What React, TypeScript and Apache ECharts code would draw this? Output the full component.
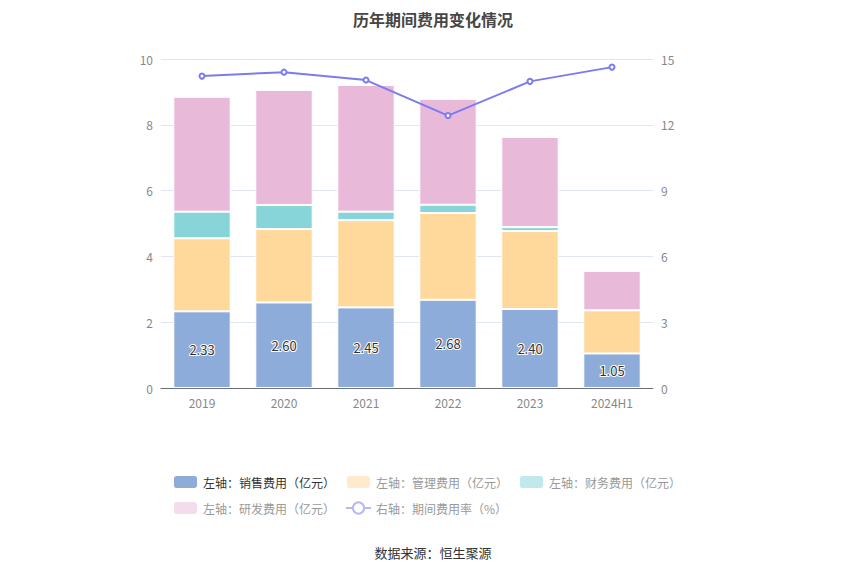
import React, { useEffect, useRef } from "react";
import * as echarts from "echarts";

const categories = ["2019", "2020", "2021", "2022", "2023", "2024H1"];
const salesExp = [2.33, 2.6, 2.45, 2.68, 2.4, 1.05];
const mgmtExp = [2.22, 2.23, 2.65, 2.64, 2.37, 1.31];
const finExp = [0.81, 0.73, 0.26, 0.25, 0.12, 0];
const rdExp = [3.49, 3.5, 3.85, 3.22, 2.74, 1.2];
const expRate = [14.22, 14.4, 14.04, 12.42, 13.98, 14.63];

const names = [
  "左轴：销售费用（亿元）",
  "左轴：管理费用（亿元）",
  "左轴：财务费用（亿元）",
  "左轴：研发费用（亿元）",
  "右轴：期间费用率（%）",
];

const FONT = "'Noto Sans CJK SC', 'Noto Sans', sans-serif";

export default function App() {
  const ref = useRef<HTMLDivElement>(null);
  useEffect(() => {
    if (!ref.current) return;
    const chart = echarts.init(ref.current, undefined, { renderer: "svg" });
    const barStyle = (color: string) => ({
      color,
      borderColor: "#fff",
      borderWidth: 1,
    });
    chart.setOption({
      animation: false,
      textStyle: { fontFamily: FONT },
      title: {
        text: "历年期间费用变化情况",
        left: "center",
        top: 2,
        padding: 0,
        textStyle: { fontSize: 16, fontWeight: "bold", color: "#464646", fontFamily: FONT, lineHeight: 18 },
      },
      legend: {
        left: 159,
        top: 461,
        width: 520,
        itemWidth: 25,
        itemHeight: 14,
        itemGap: 10,
        textStyle: { fontSize: 12, color: "#999", fontFamily: FONT },
        data: [
          { name: names[0], textStyle: { color: "#333" }, itemStyle: { color: "#8EACD9" } },
          { name: names[1], itemStyle: { color: "#FFEACB" } },
          { name: names[2], itemStyle: { color: "#C0E9EB" } },
          { name: names[3], itemStyle: { color: "#F3DCEB" } },
          {
            name: names[4],
            itemStyle: { color: "#B8B8F5", borderColor: "#B8B8F5", borderWidth: 1.5 },
            lineStyle: { color: "#B8B8F5", width: 2 },
          },
        ],
      },
      grid: { left: 153, right: 205, top: 51, bottom: 195 },
      xAxis: {
        type: "category",
        data: categories,
        axisLine: { lineStyle: { color: "#6E7079" } },
        axisTick: { alignWithLabel: true, lineStyle: { color: "#6E7079" } },
        axisLabel: { color: "#888", fontSize: 12, margin: 8 },
      },
      yAxis: [
        {
          type: "value",
          min: 0,
          max: 10,
          interval: 2,
          axisLabel: { color: "#888", fontSize: 12, margin: 8 },
          splitLine: { lineStyle: { color: "#E0E6F1" } },
          axisLine: { show: false },
          axisTick: { show: false },
        },
        {
          type: "value",
          min: 0,
          max: 15,
          interval: 3,
          axisLabel: { color: "#888", fontSize: 12, margin: 8 },
          splitLine: { show: false },
          axisLine: { show: false },
          axisTick: { show: false },
        },
      ],
      series: [
        {
          name: names[0],
          type: "bar",
          stack: "total",
          barWidth: "70%",
          data: salesExp,
          itemStyle: barStyle("#8EACD9"),
          label: {
            show: true,
            position: "inside",
            formatter: (p: any) => p.value.toFixed(2),
            color: "#333",
            fontSize: 13,
            textBorderColor: "#fff",
            textBorderWidth: 2,
            fontFamily: FONT,
          },
        },
        { name: names[1], type: "bar", stack: "total", data: mgmtExp, itemStyle: barStyle("#FFD89B") },
        { name: names[2], type: "bar", stack: "total", data: finExp, itemStyle: barStyle("#87D5D9") },
        { name: names[3], type: "bar", stack: "total", data: rdExp, itemStyle: barStyle("#E8B9D9") },
        {
          name: names[4],
          type: "line",
          yAxisIndex: 1,
          data: expRate,
          symbol: "emptyCircle",
          symbolSize: 5,
          lineStyle: { color: "#7B7BEF", width: 2 },
          itemStyle: { color: "#7B7BEF", borderWidth: 1.5 },
        },
      ],
      graphic: [
        {
          type: "text",
          left: "center",
          top: 538,
          style: { text: "数据来源：恒生聚源", fontSize: 13, fill: "#333", fontFamily: FONT },
        },
      ],
    });
    return () => chart.dispose();
  }, []);
  return <div ref={ref} style={{ width: 850, height: 575 }} />;
}
